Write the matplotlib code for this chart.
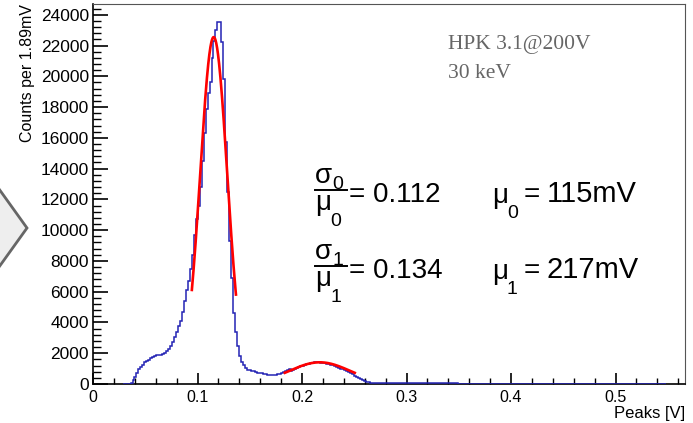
import numpy as np
import matplotlib
matplotlib.use("Agg")
import matplotlib.pyplot as plt
from matplotlib.patches import Polygon
from matplotlib.lines import Line2D
from matplotlib.ticker import MultipleLocator, FuncFormatter

plt.rcParams['font.family'] = ['Liberation Sans', 'DejaVu Sans']

# histogram binning: 1.89 mV bins, first drawn bin starts at bin index 15
bin_width = 0.00189
first_bin = 15

# counts per bin
left_shoulder = [0, 0, 0, 0, 80, 260, 470, 740, 960, 1120, 1260, 1400, 1500, 1580,
                 1680, 1760, 1840, 1880, 1890, 1900, 1950, 2030, 2120, 2260, 2450]
main_peak = [2750, 3050, 3400, 3750, 4100, 4700, 5400, 6100, 6700, 7500, 8400, 9700,
             10700, 11600, 12800, 14500, 16300, 17900, 18900, 19600, 21200, 22300,
             23000, 23500, 23500, 22200, 19800, 15700, 12500, 9300, 6900, 4600, 3400,
             2450, 1800, 1450, 1250, 1050]
valley = [930, 890, 860, 820, 780, 740, 710, 690, 660, 620, 600, 590, 580, 590, 600,
          640, 670, 700, 760, 820, 880, 950]
second_peak = [850, 900, 960, 1020, 1080, 1140, 1190, 1250, 1290, 1330, 1370, 1390,
               1410, 1420, 1400, 1390, 1370, 1350, 1320, 1300, 1260, 1210, 1160, 1100,
               1050, 1000, 950, 890, 830, 790, 700, 620, 540, 460, 380, 310, 250, 200,
               150, 115, 90, 75]
tail = [72, 68, 66, 63, 62, 60, 61, 58, 57, 58,
        56, 55, 55, 53, 52, 54, 51, 50, 50, 49,
        48, 47, 48, 46, 45, 44, 45, 43, 42, 42,
        41, 40, 40, 39, 38, 38, 37, 36, 36, 35,
        34, 34, 33, 32, 32, 31, 30, 30, 29, 28,
        28, 27, 26, 26, 25, 24, 24, 23, 22, 22,
        21, 20, 20, 19, 18, 18, 17, 17, 16, 15,
        15, 14, 14, 13, 13, 12, 12, 11, 11, 10,
        10, 10, 9, 9, 9, 8, 8, 8, 7, 7,
        7, 7, 6, 6, 6, 6, 5, 5, 5, 5,
        5, 4, 4, 4, 4, 4, 4, 3, 3, 3,
        3, 3, 3, 3, 2, 2, 2, 2, 2, 2,
        2, 2, 2, 1, 1, 1, 1, 1, 1, 1,
        1, 1, 1, 1, 1, 1, 0, 1, 0, 1,
        0, 1, 0, 0, 1, 0, 0, 0]

counts = np.concatenate((left_shoulder, main_peak, valley, second_peak, tail))
edges = (first_bin + np.arange(len(counts) + 1)) * bin_width

# gaussian fit results (amplitude, mean [V], sigma/mean, fit range)
fit0 = dict(amp=22550, mu=0.1155, rel=0.112, lo=0.0946, hi=0.1368)
fit1 = dict(amp=1410, mu=0.217, rel=0.134, lo=0.1836, hi=0.2505)

# fit result labels
rel_labels = ['0.112', '0.134']
mu_labels = ['115mV', '217mV']

W, H = 693, 423
fig = plt.figure(figsize=(W / 100, H / 100), dpi=100)


def fx(px):
    return px / W


def fy(py):
    return 1 - py / H


# slide arrow sticking in from the left
fig.add_artist(Polygon([(fx(-6), fy(182)), (fx(27), fy(228)), (fx(-6), fy(274))],
                       closed=False, transform=fig.transFigure, facecolor='#eeeeee',
                       edgecolor='#666666', lw=2))

ax = fig.add_axes([fx(93), fy(384), fx(685) - fx(93), fy(4) - fy(384)])

# histogram drawn over the axis line, like ROOT does
ax.stairs(counts, edges, color='#2323b4', lw=1.1, zorder=3)
for f in (fit0, fit1):
    xs = np.linspace(f['lo'], f['hi'], 200)
    sig = f['rel'] * f['mu']
    ax.plot(xs, f['amp'] * np.exp(-0.5 * ((xs - f['mu']) / sig) ** 2), color='#ff0000',
            lw=1.9, zorder=4)

ax.set_xlim(0, 0.5665)
ax.set_ylim(0, 24700)

ax.xaxis.set_major_locator(MultipleLocator(0.1))
ax.xaxis.set_minor_locator(MultipleLocator(0.02))
ax.yaxis.set_major_locator(MultipleLocator(2000))
ax.yaxis.set_minor_locator(MultipleLocator(400))
ax.xaxis.set_major_formatter(FuncFormatter(lambda v, p: '%g' % round(v, 3)))
ax.yaxis.set_major_formatter(FuncFormatter(lambda v, p: '%d' % v))
ax.tick_params(axis='both', which='both', direction='in', top=False, right=False)
ax.tick_params(axis='y', which='major', length=11, width=1.2, pad=3, labelsize=12.5)
ax.tick_params(axis='y', which='minor', length=5.5, width=1)
ax.tick_params(axis='x', which='major', length=8, width=1.2, pad=4, labelsize=11.5)
ax.tick_params(axis='x', which='minor', length=4, width=1)

for s in ('top', 'right'):
    ax.spines[s].set_color('#555555')
ax.spines['left'].set_linewidth(1.2)
ax.spines['bottom'].set_linewidth(1.2)

ax.set_ylabel('Counts per 1.89mV', fontsize=11.5, loc='top', labelpad=4)
ax.set_xlabel('Peaks [V]', fontsize=12, loc='right', labelpad=1)

# annotations
fig.text(fx(448), fy(45), 'HPK 3.1@200V', family='Liberation Serif', fontsize=15.5,
         color='#666666', va='center')
fig.text(fx(448), fy(73), '30 keV', family='Liberation Serif', fontsize=15.5,
         color='#666666', va='center')

fs, fs_sub = 20, 14
for k, bar in enumerate((190, 266)):
    # sigma_k / mu_k fraction
    fig.text(fx(315), fy(bar - 7), '\u03c3', fontsize=fs, va='baseline')
    fig.text(fx(332), fy(bar - 1), str(k), fontsize=fs_sub, va='baseline')
    fig.add_artist(Line2D([fx(315), fx(347)], [fy(bar), fy(bar)], color='black', lw=1.4,
                          transform=fig.transFigure))
    fig.text(fx(315), fy(bar + 20), '\u03bc', fontsize=fs, va='baseline')
    fig.text(fx(330), fy(bar + 36), str(k), fontsize=fs_sub, va='baseline')
    fig.text(fx(349), fy(bar + 12), '= ' + rel_labels[k], fontsize=fs, va='baseline')
    # mu_k value
    fig.text(fx(492), fy(bar + 13), '\u03bc', fontsize=fs, va='baseline')
    fig.text(fx(507), fy(bar + 28), str(k), fontsize=fs_sub, va='baseline')
    fig.text(fx(524), fy(bar + 12), '=', fontsize=fs, va='baseline')
    fig.text(fx(547), fy(bar + 12), mu_labels[k], fontsize=fs + 1, va='baseline')

fig.savefig('out.png', dpi=100)
